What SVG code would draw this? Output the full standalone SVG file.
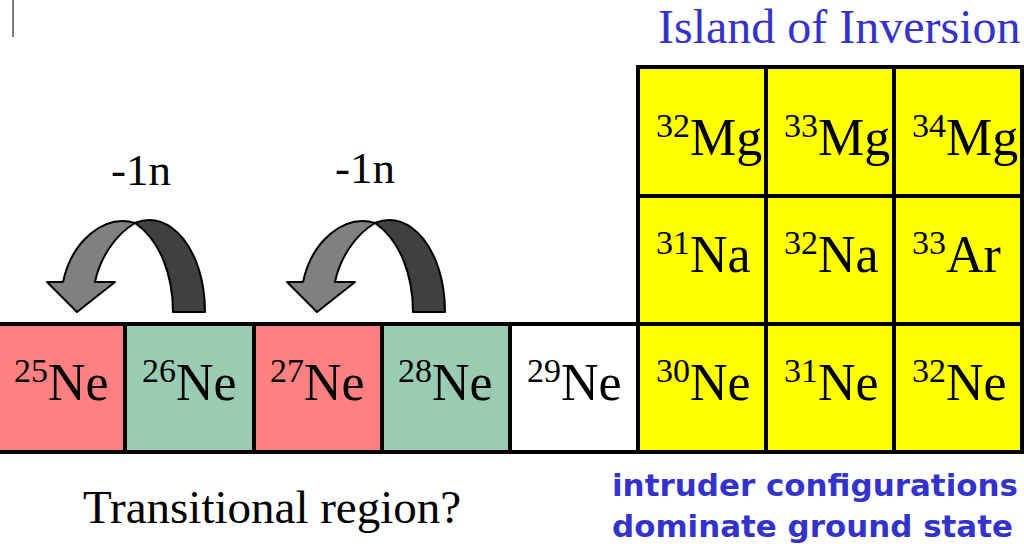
<svg xmlns="http://www.w3.org/2000/svg" width="1024" height="556" viewBox="0 0 1024 556">
<style>
.cell{stroke:#000;stroke-width:4}
.red{fill:#FF8080}
.grn{fill:#99CCB3}
.wht{fill:#FFFFFF}
.yel{fill:#FFFF00}
.lbl{font-family:"Liberation Serif","Times New Roman",serif;font-size:52px;fill:#000}
.sup{font-size:34px}
.ttl{font-family:"Liberation Serif","Times New Roman",serif;fill:#000}
.blue{fill:#3333CC}
.note{font-family:"DejaVu Sans","Noto Sans",sans-serif;font-weight:bold;font-size:31px;fill:#3333CC}
.light{fill:#808080;stroke:#000;stroke-width:2;stroke-linejoin:round}
.dark{fill:#404040;stroke:#000;stroke-width:2;stroke-linejoin:round}
</style>
<rect width="1024" height="556" fill="#fff"/>
<line x1="13" y1="0" x2="13" y2="37" stroke="#808080" stroke-width="2"/>

<g id="ne25"><rect class="cell red" x="-4" y="324" width="129" height="128"/><text class="lbl" x="14" y="400"><tspan class="sup" dy="-18">25</tspan><tspan dy="18">Ne</tspan></text></g>
<g id="ne26"><rect class="cell grn" x="125" y="324" width="129" height="128"/><text class="lbl" x="142" y="400"><tspan class="sup" dy="-18">26</tspan><tspan dy="18">Ne</tspan></text></g>
<g id="ne27"><rect class="cell red" x="254" y="324" width="128" height="128"/><text class="lbl" x="270" y="400"><tspan class="sup" dy="-18">27</tspan><tspan dy="18">Ne</tspan></text></g>
<g id="ne28"><rect class="cell grn" x="382" y="324" width="128" height="128"/><text class="lbl" x="398" y="400"><tspan class="sup" dy="-18">28</tspan><tspan dy="18">Ne</tspan></text></g>
<g id="ne29"><rect class="cell wht" x="510" y="324" width="128" height="128"/><text class="lbl" x="527" y="400"><tspan class="sup" dy="-18">29</tspan><tspan dy="18">Ne</tspan></text></g>
<g id="ne30"><rect class="cell yel" x="638" y="324" width="128" height="128"/><text class="lbl" x="656" y="400"><tspan class="sup" dy="-18">30</tspan><tspan dy="18">Ne</tspan></text></g>
<g id="ne31"><rect class="cell yel" x="766" y="324" width="128" height="128"/><text class="lbl" x="784" y="400"><tspan class="sup" dy="-18">31</tspan><tspan dy="18">Ne</tspan></text></g>
<g id="ne32"><rect class="cell yel" x="894" y="324" width="128" height="128"/><text class="lbl" x="912" y="400"><tspan class="sup" dy="-18">32</tspan><tspan dy="18">Ne</tspan></text></g>

<g id="na31"><rect class="cell yel" x="638" y="196" width="128" height="128"/><text class="lbl" x="656" y="272"><tspan class="sup" dy="-18">31</tspan><tspan dy="18">Na</tspan></text></g>
<g id="na32"><rect class="cell yel" x="766" y="196" width="128" height="128"/><text class="lbl" x="784" y="272"><tspan class="sup" dy="-18">32</tspan><tspan dy="18">Na</tspan></text></g>
<g id="ar33"><rect class="cell yel" x="894" y="196" width="128" height="128"/><text class="lbl" x="912" y="272"><tspan class="sup" dy="-18">33</tspan><tspan dy="18">Ar</tspan></text></g>

<g id="mg32"><rect class="cell yel" x="638" y="67" width="128" height="129"/><text class="lbl" x="656" y="155"><tspan class="sup" dy="-18">32</tspan><tspan dy="18">Mg</tspan></text></g>
<g id="mg33"><rect class="cell yel" x="766" y="67" width="128" height="129"/><text class="lbl" x="784" y="155"><tspan class="sup" dy="-18">33</tspan><tspan dy="18">Mg</tspan></text></g>
<g id="mg34"><rect class="cell yel" x="894" y="67" width="128" height="129"/><text class="lbl" x="912" y="155"><tspan class="sup" dy="-18">34</tspan><tspan dy="18">Mg</tspan></text></g>

<g id="connectors">
  <g id="arrow1">
    <path class="dark" d="M135,223 C170,208 205,250 205,312 L173,312 C173,275 160,240 135,223 Z"/>
    <path class="light" d="M135,223 C105,214 72,240 63,282 L47,282 L77,312 L115,282 L95,282 C100,258 115,235 135,223 Z"/>
  </g>
  <g id="arrow2" transform="translate(240,0)">
    <path class="dark" d="M135,223 C170,208 205,250 205,312 L173,312 C173,275 160,240 135,223 Z"/>
    <path class="light" d="M135,223 C105,214 72,240 63,282 L47,282 L77,312 L115,282 L95,282 C100,258 115,235 135,223 Z"/>
  </g>
</g>

<g id="labels">
  <text class="ttl blue" x="658" y="43" font-size="48">Island of Inversion</text>
  <text class="ttl" x="111" y="185" font-size="45">-1n</text>
  <text class="ttl" x="335" y="183" font-size="45">-1n</text>
  <text class="ttl" x="83" y="523" font-size="47">Transitional region?</text>
  <text class="note" x="612" y="496" textLength="406" lengthAdjust="spacingAndGlyphs">intruder configurations</text>
  <text class="note" x="612" y="537" textLength="401" lengthAdjust="spacingAndGlyphs">dominate ground state</text>
</g>
</svg>
